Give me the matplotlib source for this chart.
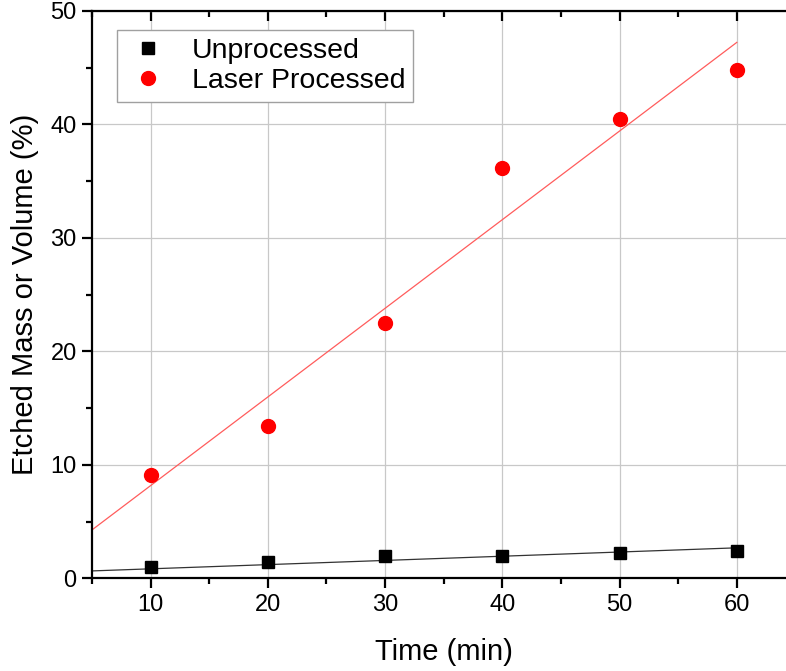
import numpy as np
import matplotlib
matplotlib.use("Agg")
from matplotlib import pyplot as plt
from matplotlib.ticker import MultipleLocator

plt.rcParams['font.family'] = ['Liberation Sans', 'DejaVu Sans']

# data
time_min = [10, 20, 30, 40, 50, 60]
unprocessed = [0.99, 1.48, 1.98, 1.98, 2.22, 2.42]
laser = [9.1, 13.45, 22.5, 36.2, 40.5, 44.8]

# linear fit lines as drawn in the reference (slope, intercept)
unproc_fit = (0.037, 0.48)
laser_fit = (0.781, 0.37)
fit_range = [5, 60]

fig = plt.figure(figsize=(7.86, 6.71), dpi=100)
ax = fig.add_axes([0.117, 0.1379, 0.895, 0.8458])

xf = np.array(fit_range, dtype=float)
ax.plot(xf, unproc_fit[0]*xf + unproc_fit[1], color='#333333', lw=0.9, zorder=2)
ax.plot(xf, laser_fit[0]*xf + laser_fit[1], color='#ff5c5c', lw=0.9, zorder=2)

ax.plot(time_min, unprocessed, ls='none', marker='s', ms=8.4, color='black',
        label='Unprocessed', zorder=3)
ax.plot(time_min, laser, ls='none', marker='o', ms=10, color='red',
        mec='red', label='Laser Processed', zorder=3)

ax.set_xlim(5, 65)
ax.set_ylim(0, 50)
ax.xaxis.set_major_locator(MultipleLocator(10))
ax.xaxis.set_minor_locator(MultipleLocator(5))
ax.yaxis.set_major_locator(MultipleLocator(10))
ax.yaxis.set_minor_locator(MultipleLocator(5))

ax.grid(True, which='major', color='#c8c8c8', lw=0.9)
ax.set_axisbelow(True)

for s in ax.spines.values():
    s.set_linewidth(1.6)

ax.tick_params(which='both', direction='out', width=1.6, labelsize=17,
               top=True, right=True)
ax.tick_params(which='major', length=7.5)
ax.tick_params(which='minor', length=4)
# top axis ticks point inward
for t in ax.xaxis.get_major_ticks() + ax.xaxis.get_minor_ticks():
    t.tick2line.set_marker(matplotlib.lines.TICKDOWN)

ax.set_xlabel('Time (min)', fontsize=21, labelpad=16)
ax.set_ylabel('Etched Mass or Volume (%)', fontsize=21, labelpad=8)

leg = ax.legend(loc='upper left', bbox_to_anchor=(0.0355, 0.9665),
                borderaxespad=0, fontsize=20.5, frameon=True, fancybox=False,
                edgecolor='#a0a0a0', framealpha=1, handlelength=1.6,
                handletextpad=0.75, borderpad=0.28, labelspacing=0.15)
leg.get_frame().set_linewidth(1.0)

fig.savefig('out.png', dpi=100)
